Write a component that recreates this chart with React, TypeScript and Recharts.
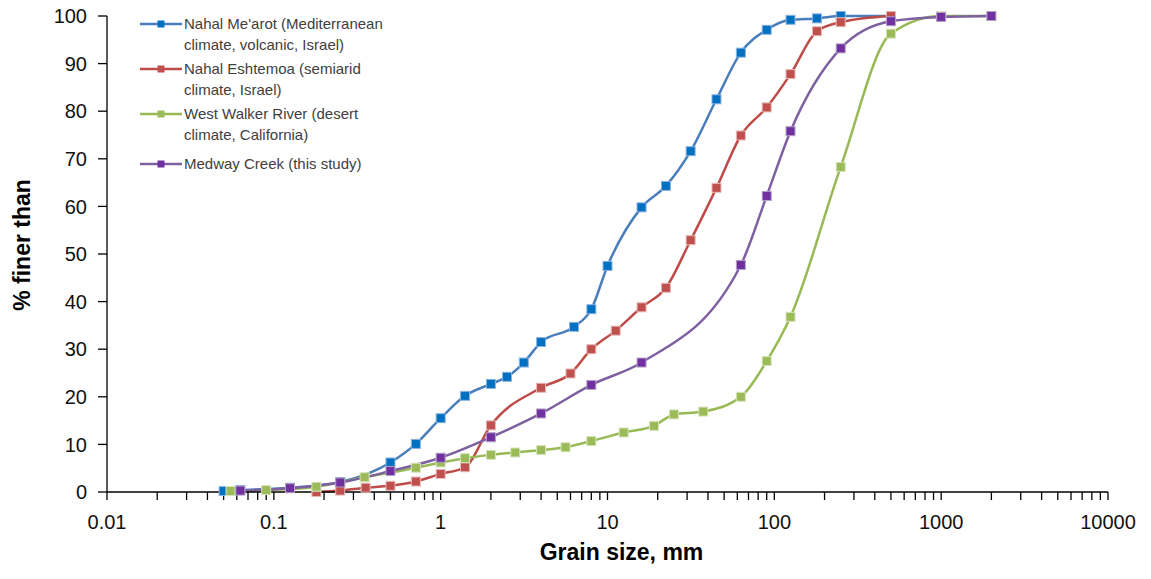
import React from "react";
import { LineChart, Line, XAxis, YAxis, Legend, Label } from "recharts";

// sieve sizes (mm) and cumulative % finer for each river
const mearotSize = [0.05, 0.063, 0.125, 0.25, 0.5, 0.71, 1, 1.4, 2, 2.5, 3.15, 4, 6.3, 8, 10, 16, 22.4, 31.5, 45, 63, 90, 125, 180, 250, 500];
const mearotFiner = [0.2, 0.4, 0.9, 2.1, 6.2, 10.1, 15.5, 20.2, 22.7, 24.2, 27.2, 31.5, 34.7, 38.4, 47.5, 59.8, 64.3, 71.6, 82.5, 92.3, 97.1, 99.2, 99.5, 100, 100];

const eshtemoaSize = [0.18, 0.25, 0.355, 0.5, 0.71, 1, 1.4, 2, 4, 6, 8, 11.2, 16, 22.4, 31.5, 45, 63, 90, 125, 180, 250, 500];
const eshtemoaFiner = [0, 0.3, 0.9, 1.3, 2.2, 3.8, 5.2, 14.0, 21.9, 24.9, 30.0, 33.9, 38.8, 42.9, 52.9, 63.9, 74.9, 80.8, 87.8, 96.8, 98.7, 100];

const walkerSize = [0.055, 0.09, 0.18, 0.35, 0.71, 1, 1.4, 2, 2.8, 4, 5.6, 8, 12.5, 19, 25, 37.5, 63, 90, 125, 250, 500, 1000, 2000];
const walkerFiner = [0.2, 0.4, 1.1, 3.1, 5.1, 6.2, 7.1, 7.8, 8.3, 8.8, 9.4, 10.7, 12.5, 13.9, 16.3, 16.9, 20.0, 27.5, 36.8, 68.3, 96.3, 100, 100];

const medwaySize = [0.063, 0.125, 0.25, 0.5, 1, 2, 4, 8, 16, 63, 90, 125, 250, 500, 1000, 2000];
const medwayFiner = [0.3, 0.8, 2.0, 4.4, 7.2, 11.5, 16.5, 22.5, 27.2, 47.7, 62.2, 75.8, 93.2, 98.9, 99.8, 100];

const decadeTicks = [0.01, 0.1, 1, 10, 100, 1000, 10000];
const decadeLabels = ["0.01", "0.1", "1", "10", "100", "1000", "10000"];
const percentTicks = [0, 10, 20, 30, 40, 50, 60, 70, 80, 90, 100];

const zip = (xs: number[], ys: number[]) => xs.map((x, i) => ({ size: x, finer: ys[i] }));

const series = [
  { name: ["Nahal Me'arot (Mediterranean", "climate, volcanic, Israel)"], data: zip(mearotSize, mearotFiner), line: "#4A7EBB", marker: "#0070C0", edge: "#8DB3E2" },
  { name: ["Nahal Eshtemoa (semiarid", "climate, Israel)"], data: zip(eshtemoaSize, eshtemoaFiner), line: "#BE4B48", marker: "#C0504D", edge: "#E6B9B8" },
  { name: ["West Walker River (desert", "climate, California)"], data: zip(walkerSize, walkerFiner), line: "#98B954", marker: "#9BBB59", edge: "#D7E4BD" },
  { name: ["Medway Creek (this study)"], data: zip(medwaySize, medwayFiner), line: "#7D60A0", marker: "#7030A0", edge: "#B3A2C7" },
];

// log axis gets a tick at every 1..9 multiple, only decades are labelled
const allTicks = decadeTicks.flatMap((d, i) =>
  i === decadeTicks.length - 1 ? [d] : [1, 2, 3, 4, 5, 6, 7, 8, 9].map((m) => d * m)
);

const FONT = "'Liberation Sans', Arial, sans-serif";

function GrainTick(props: any) {
  const { x, y, payload } = props;
  const i = decadeTicks.findIndex((d) => Math.abs(d - payload.value) / d < 1e-6);
  if (i < 0) return <g />;
  return (
    <text x={x} y={y} dy="0.71em" textAnchor="middle" fontSize={20} fill="#111" fontFamily={FONT}>
      {decadeLabels[i]}
    </text>
  );
}

function squareDot(fill: string, edge: string, key: string) {
  return (p: any) => (
    <rect
      key={`${key}-${p.index}`}
      x={p.cx - 4.5}
      y={p.cy - 4.5}
      width={9}
      height={9}
      fill={fill}
      stroke={edge}
      strokeWidth={1}
    />
  );
}

const entryTop = [14, 59, 104, 154];

function SeriesLegend() {
  return (
    <div style={{ position: "relative", width: 260, height: 175, fontFamily: FONT, fontSize: 15, color: "#404040" }}>
      {series.map((s, i) => (
        <div key={i} style={{ position: "absolute", left: 0, top: entryTop[i] }}>
          <svg width={50} height={20} style={{ position: "absolute", left: 0, top: 0 }}>
            <line x1={2} y1={10} x2={44} y2={10} stroke={s.line} strokeWidth={2.5} />
            <rect x={19.5} y={6.5} width={7} height={7} fill={s.marker} />
          </svg>
          <div style={{ position: "absolute", left: 46, top: 0, whiteSpace: "nowrap", lineHeight: "20.5px" }}>
            {s.name.map((t, j) => (
              <div key={j}>{t}</div>
            ))}
          </div>
        </div>
      ))}
    </div>
  );
}

export default function App() {
  return (
    <div style={{ position: "absolute", left: 0, top: 0, width: 1151, height: 579, background: "#fff" }}>
      <LineChart width={1151} height={579} margin={{ top: 16, right: 43, bottom: 37, left: 7 }}>
        <XAxis
          dataKey="size"
          type="number"
          scale="log"
          domain={[0.01, 10000]}
          ticks={allTicks}
          interval={0}
          tick={<GrainTick />}
          tickSize={8}
          tickMargin={15}
          height={50}
          stroke="#000"
          strokeWidth={1.3}
          allowDuplicatedCategory={false}
        >
          <Label
            value="Grain size, mm"
            position="bottom"
            offset={2}
            dx={14}
            style={{ fontFamily: FONT, fontSize: 23, fontWeight: 700, fill: "#000" }}
          />
        </XAxis>
        <YAxis
          type="number"
          domain={[0, 100]}
          ticks={percentTicks}
          interval={0}
          width={100}
          tickSize={9}
          tickMargin={11}
          stroke="#000"
          strokeWidth={1.3}
          tick={{ fontFamily: FONT, fontSize: 20, fill: "#111" }}
        >
          <Label
            value="% finer than"
            angle={-90}
            position="center"
            dx={-35}
            dy={-9}
            style={{ fontFamily: FONT, fontSize: 23, fontWeight: 700, fill: "#000", textAnchor: "middle" }}
          />
        </YAxis>
        <Legend
          layout="vertical"
          align="center"
          verticalAlign="middle"
          content={() => <SeriesLegend />}
          wrapperStyle={{ left: 138, top: 0, width: 260, height: 175 }}
        />
        {series.map((s, i) => (
          <Line
            key={i}
            data={s.data}
            dataKey="finer"
            name={s.name.join(" ")}
            type="monotone"
            stroke={s.line}
            strokeWidth={2.5}
            dot={squareDot(s.marker, s.edge, `d${i}`)}
            activeDot={false}
            isAnimationActive={false}
          />
        ))}
      </LineChart>
    </div>
  );
}
